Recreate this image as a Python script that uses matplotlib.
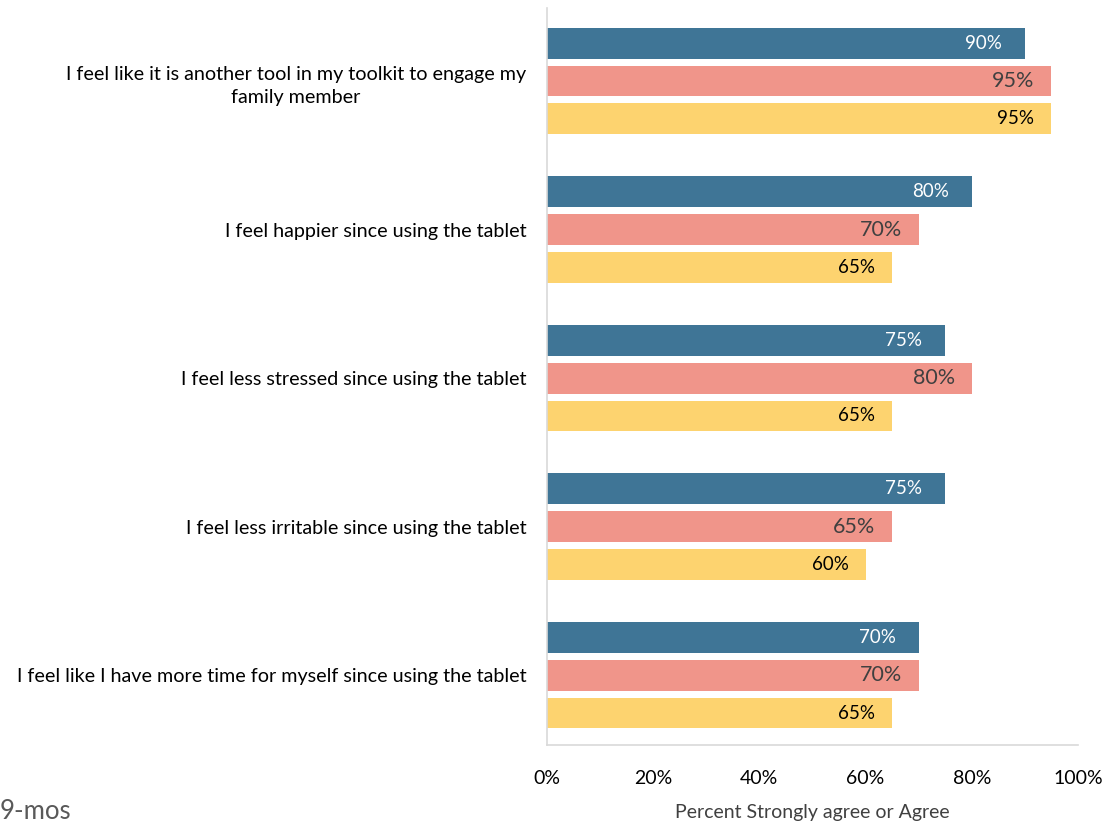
import matplotlib
matplotlib.use("Agg")
import matplotlib.pyplot as plt
from matplotlib.ticker import PercentFormatter

plt.rcParams['font.family'] = ['Lato', 'DejaVu Sans']

categories = [
    "I feel like it is another tool in my toolkit to engage my\nfamily member",
    "I feel happier since using the tablet",
    "I feel less stressed since using the tablet",
    "I feel less irritable since using the tablet",
    "I feel like I have more time for myself since using the tablet",
]
series_blue = [90, 80, 75, 75, 70]
series_pink = [95, 70, 80, 65, 70]
series_yellow = [95, 65, 65, 60, 65]
x_ticks = [0, 20, 40, 60, 80, 100]

colors = ["#3F7596", "#F0958A", "#FDD36F"]
label_colors = ["white", "#404040", "black"]
label_sizes = [13.5, 15.5, 13.5]
label_gaps = [4.3, 3.2, 3.2]
offsets = [-0.255, 0.0, 0.255]
bar_h = 0.208

fig = plt.figure(figsize=(11.05, 8.25), dpi=100)
ax = fig.add_axes([0.495, 0.097, 0.4806, 0.893])

for s, vals in enumerate([series_blue, series_pink, series_yellow]):
    ys = [i + offsets[s] for i in range(len(categories))]
    bars = ax.barh(ys, vals, height=bar_h, color=colors[s])
    for b, v in zip(bars, vals):
        ax.text(v - label_gaps[s], b.get_y() + b.get_height() / 2, f"{v}%",
                ha="right", va="center", color=label_colors[s],
                fontsize=label_sizes[s])

ax.set_xlim(0, 100)
ax.set_ylim(4.47, -0.49)
ax.set_xticks(x_ticks)
ax.xaxis.set_major_formatter(PercentFormatter(decimals=0))
ax.set_yticks(range(len(categories)))
ax.set_yticklabels(categories, fontsize=14.2, color="black",
                   multialignment="center", linespacing=1.45)
ax.tick_params(axis="x", labelsize=14, length=0, pad=18, colors="black")
ax.tick_params(axis="y", length=0, pad=15)

for side in ["top", "right"]:
    ax.spines[side].set_visible(False)
for side in ["left", "bottom"]:
    ax.spines[side].set_color("#D9D9D9")
    ax.spines[side].set_linewidth(1.2)

ax.set_xlabel("Percent Strongly agree or Agree", fontsize=14, color="#404040", labelpad=12)
fig.text(0.0, 0.001, "9-mos", fontsize=18.5, color="#595959", ha="left", va="bottom")

fig.savefig("out.png", dpi=100)
